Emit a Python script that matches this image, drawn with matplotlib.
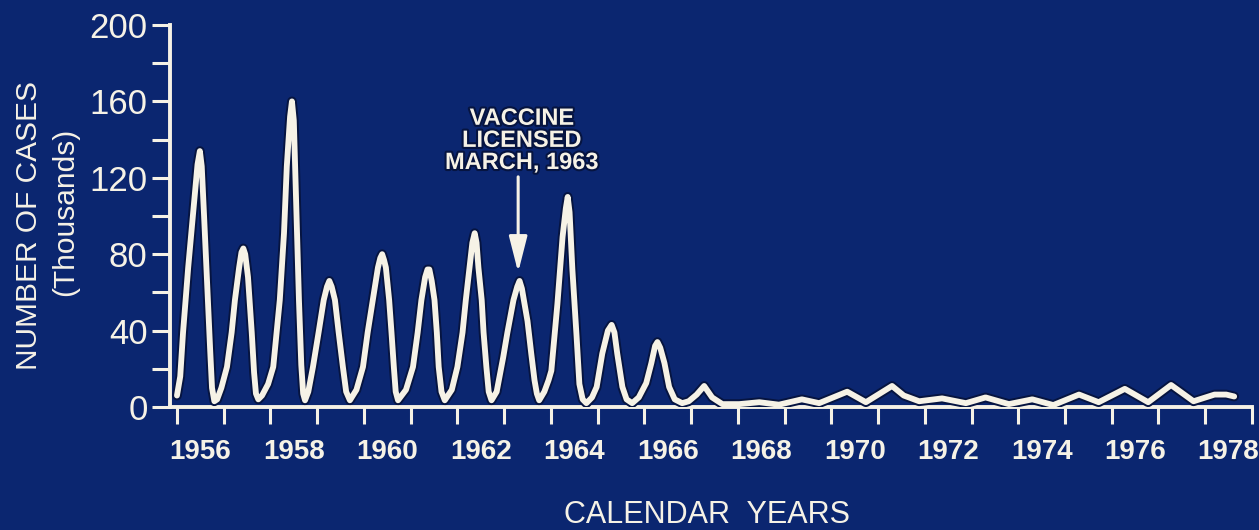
import numpy as np
import matplotlib
matplotlib.use("Agg")
import matplotlib.pyplot as plt
import matplotlib.patheffects as pe

plt.rcParams['font.family'] = ['Liberation Sans', 'DejaVu Sans']

# reported measles cases (thousands), time in decimal years
t = [1956.00, 1956.07, 1956.13, 1956.24, 1956.37, 1956.44, 1956.49, 1956.53, 1956.58, 1956.65, 1956.71, 1956.75, 1956.80, 1956.86,
     1956.95, 1957.07, 1957.17, 1957.24, 1957.33, 1957.38, 1957.42, 1957.46, 1957.52, 1957.60, 1957.65, 1957.69, 1957.74,
     1957.82, 1957.95, 1958.06, 1958.20, 1958.29, 1958.35, 1958.42, 1958.46, 1958.50, 1958.55, 1958.61, 1958.66, 1958.70, 1958.74,
     1958.81, 1958.91, 1959.03, 1959.14, 1959.21, 1959.26, 1959.31, 1959.38, 1959.46, 1959.55, 1959.62, 1959.70,
     1959.84, 1959.98, 1960.08, 1960.19, 1960.30, 1960.35, 1960.39, 1960.43, 1960.47, 1960.54, 1960.59, 1960.64, 1960.68, 1960.73,
     1960.90, 1961.05, 1961.15, 1961.23, 1961.31, 1961.36, 1961.40, 1961.45, 1961.51, 1961.56, 1961.60, 1961.66, 1961.73,
     1961.88, 1962.00, 1962.11, 1962.18, 1962.26, 1962.32, 1962.37, 1962.41, 1962.45, 1962.52, 1962.56, 1962.62, 1962.67, 1962.73,
     1962.84, 1962.94, 1962.98, 1963.07, 1963.20, 1963.28, 1963.33, 1963.38, 1963.45, 1963.50, 1963.58, 1963.65, 1963.70, 1963.75,
     1963.86, 1963.95, 1964.01, 1964.14, 1964.25, 1964.32, 1964.36, 1964.40, 1964.46, 1964.55, 1964.61, 1964.68, 1964.76,
     1964.88, 1964.98, 1965.10, 1965.22, 1965.30, 1965.36, 1965.42, 1965.53, 1965.62, 1965.74,
     1965.88, 1966.04, 1966.15, 1966.23, 1966.28, 1966.34, 1966.43, 1966.53, 1966.65, 1966.81,
     1966.95, 1967.12, 1967.28, 1967.45, 1967.67,
     1968.03, 1968.46, 1968.88, 1969.37, 1969.74, 1970.34, 1970.74, 1971.30, 1971.55, 1971.88,
     1972.37, 1972.88, 1973.30, 1973.80, 1974.30, 1974.75, 1975.30, 1975.72, 1976.28, 1976.78,
     1977.27, 1977.75, 1978.20, 1978.45, 1978.62]
cases = [6, 16, 39, 73, 108, 127, 134, 126, 100, 62, 30, 10, 3, 4,
         10, 21, 39, 56, 73, 81, 83, 80, 68, 39, 18, 7, 4,
         6, 12, 21, 56, 91, 126, 152, 160, 150, 108, 56, 22, 7, 3.5,
         8, 21, 39, 56, 63, 66, 63, 56, 39, 21, 8, 3.5,
         9, 21, 39, 56, 73, 78, 80, 77, 73, 56, 39, 21, 8, 3.5,
         9, 21, 39, 56, 68, 72, 72, 66, 56, 39, 21, 8, 3.5,
         9, 21, 39, 56, 73, 86, 91, 86, 73, 56, 39, 21, 8, 3.5,
         8, 21, 26, 39, 56, 63, 66, 62, 52, 45, 28, 14, 7, 3.5,
         8, 14, 19, 54, 89, 104, 110, 102, 72, 37, 12, 4, 2,
         5, 10.5, 28, 40, 43, 39, 28, 10.5, 4, 2,
         5, 12.5, 23, 32, 34, 31, 23, 10.5, 4, 2,
         3, 6.5, 11, 5, 1.5,
         1.5, 2.5, 1.2, 4, 2, 8, 2.5, 11, 6, 3,
         4.5, 2, 5, 1.5, 4, 1, 6.5, 2.5, 9.5, 2.5,
         11.5, 3, 6.5, 6.5, 5.5]

year_ticks = list(range(1956, 1980))
year_labels = [str(y) for y in range(1956, 1979, 2)]
case_ticks = list(range(0, 201, 20))
case_labels = [str(v) if v % 40 == 0 else '' for v in case_ticks]

bg = '#0b2670'
fg = '#f6f2e6'
halo = [pe.withStroke(linewidth=7, foreground='#061440')]

fig = plt.figure(figsize=(12.59, 5.30), dpi=100, facecolor=bg)
ax = fig.add_axes([0.1350, 0.2321, 0.8594, 0.7207], facecolor=bg)

ax.plot(t, cases, color=fg, lw=4.2, solid_joinstyle='round', solid_capstyle='round',
        path_effects=halo, zorder=3)

ax.set_xlim(1956 - 7 / 46.74, 1979)
ax.set_ylim(0, 200)

for s in ['top', 'right']:
    ax.spines[s].set_visible(False)
for s in ['left', 'bottom']:
    ax.spines[s].set_color(fg)
    ax.spines[s].set_linewidth(2.8)

ax.set_xticks(year_ticks)
ax.set_xticklabels([])
ax.set_xticks([y + 0.5 for y in range(1956, 1979, 2)], minor=True)
ax.set_xticklabels(year_labels, minor=True)
ax.tick_params(axis='x', which='major', direction='out', length=12, width=2.2, color=fg)
ax.tick_params(axis='x', which='minor', length=0, pad=23, labelsize=20, labelcolor=fg)
for lab in ax.get_xticklabels(minor=True):
    lab.set_fontweight('bold')

ax.set_yticks(case_ticks)
ax.set_yticklabels(case_labels)
ax.tick_params(axis='y', direction='out', length=13, width=2.2, color=fg,
               labelsize=25, labelcolor=fg, pad=3)

# vaccine arrow
ax.annotate('', xy=(1963.30, 70.5), xytext=(1963.30, 120.5),
            arrowprops=dict(arrowstyle='-|>,head_length=1.1,head_width=0.28',
                            mutation_scale=20, lw=2.2, color=fg, shrinkA=0, shrinkB=0))
ax.text(1963.38, 122, 'VACCINE\nLICENSED\nMARCH, 1963', ha='center', va='bottom',
        multialignment='center', linespacing=0.95, fontsize=17, fontweight='bold',
        color=fg, path_effects=[pe.withStroke(linewidth=3, foreground='#061440')])

fig.text(29 / 1259, 1 - 225 / 530, 'NUMBER OF CASES', rotation=90, ha='center', va='center',
         fontsize=21.5, color=fg)
fig.text(65 / 1259, 1 - 212 / 530, '(Thousands)', rotation=90, ha='center', va='center',
         fontsize=21.5, color=fg)
fig.text(707 / 1259, 1 - 515 / 530, 'CALENDAR  YEARS', ha='center', va='center',
         fontsize=22, color=fg)

fig.savefig('out.png', dpi=100, facecolor=bg)
